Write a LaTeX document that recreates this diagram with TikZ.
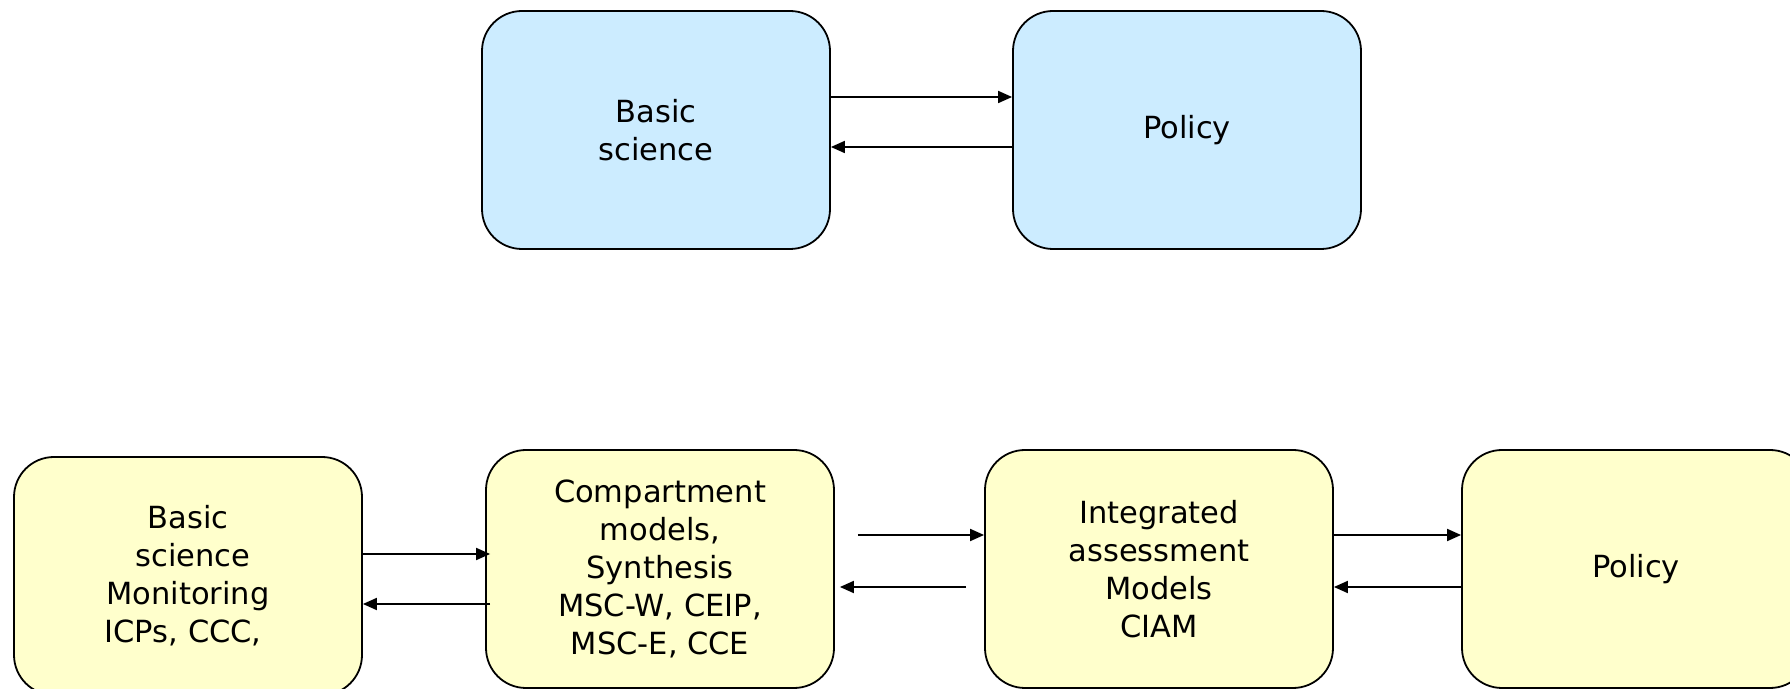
\documentclass[tikz,border=0pt]{standalone}
\usepackage{fontspec}
\setmainfont{DejaVu Sans}
\usetikzlibrary{arrows.meta,calc}
\definecolor{boxblue}{RGB}{204,236,255}
\definecolor{boxyellow}{RGB}{255,255,204}
\tikzset{
  box/.style={draw=black, line width=0.9pt, rounded corners=20pt,
    minimum width=174pt, minimum height=119pt, align=center,
    font=\fontsize{15.25}{19}\selectfont},
  topbox/.style={box, fill=boxblue},
  lowbox/.style={box, fill=boxyellow},
  arr/.style={line width=0.9pt, -{Triangle[length=7pt,width=6pt]}}
}
\begin{document}
\begin{tikzpicture}[x=0.5pt,y=0.5pt,yscale=-1,xscale=1]
  \useasboundingbox (0,0) rectangle (1790,689);
  % upper row
  \node[topbox] (sci) at (656,130) {Basic\\science};
  \node[topbox] (pol) at (1187,130) {Policy};
  \draw[arr] ($(sci.east)+(0,-33)$) -- ($(pol.west)+(0,-33)$);
  \draw[arr] ($(pol.west)+(0,17)$) -- ($(sci.east)+(0,17)$);
  % lower row
  \node[lowbox] (mon) at (188,576) {Basic\\\hphantom{\ }science\\Monitoring\\ICPs, CCC,\hphantom{\ }};
  \node[lowbox] (cmp) at (660,569) {Compartment\\models,\\Synthesis\\MSC-W, CEIP,\\MSC-E, CCE};
  \node[lowbox] (iam) at (1159,569) {Integrated\\assessment\\Models\\CIAM};
  \node[lowbox] (pol2) at (1636,569) {Policy};
  \draw[arr] ($(mon.east)+(0,-22)$) -- ($(cmp.west)+(5,-15)$);
  \draw[arr] ($(cmp.west)+(5,35)$) -- ($(mon.east)+(0,28)$);
  \draw[arr] ($(cmp.east)+(23,-34)$) -- ($(iam.west)+(0,-34)$);
  \draw[arr] ($(iam.west)+(-18,18)$) -- ($(cmp.east)+(5,18)$);
  \draw[arr] ($(iam.east)+(0,-34)$) -- ($(pol2.west)+(0,-34)$);
  \draw[arr] ($(pol2.west)+(0,18)$) -- ($(iam.east)+(0,18)$);
\end{tikzpicture}
\end{document}
